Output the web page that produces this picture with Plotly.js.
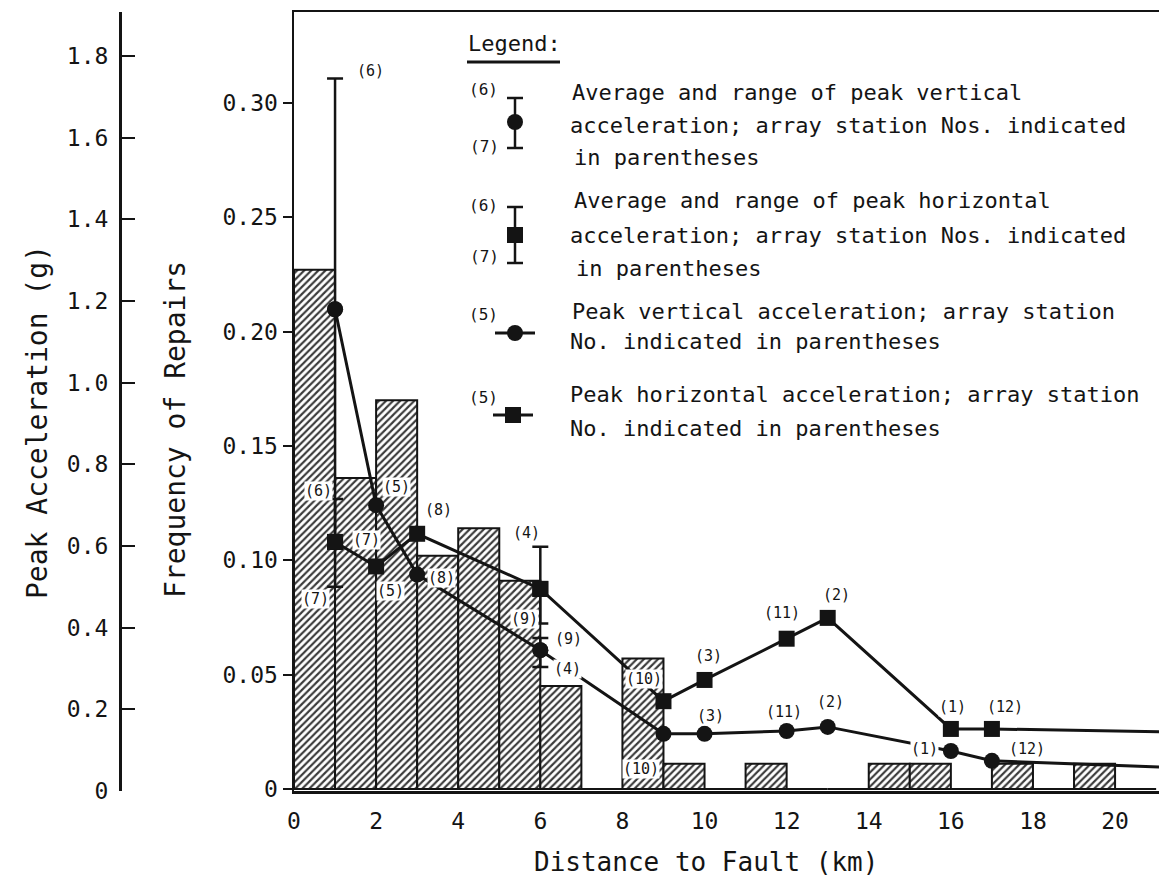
<!DOCTYPE html>
<html>
<head>
<meta charset="utf-8">
<script src="https://cdn.plot.ly/plotly-3.0.1.min.js"></script>
<style>
  html, body { margin: 0; padding: 0; background: #fff; }
  #chart { width: 1159px; height: 884px; }
</style>
</head>
<body>
<div id="chart"></div>
<script>
// ---- Histogram of pipeline repairs, 1 km bins ----
const repairBinStart = [0, 1, 2, 3, 4, 5, 6, 7, 8, 9, 10, 11, 12, 13, 14, 15, 16, 17, 18, 19, 20];
const repairFreq     = [0.227, 0.136, 0.170, 0.102, 0.114, 0.091, 0.045, 0, 0.057, 0.011, 0,
                        0.011, 0, 0, 0.011, 0.011, 0, 0.011, 0, 0.011, 0];

// ---- Strong-motion array stations ----
const stationKm       = [1, 2, 3, 6, 9, 10, 12, 13, 16, 17];
const peakVertical    = [1.18, 0.70, 0.53, 0.345, 0.14, 0.14, 0.147, 0.157, 0.098, 0.074];
const peakHorizontal  = [0.61, 0.55, 0.63, 0.495, 0.22, 0.272, 0.373, 0.424, 0.152, 0.152];
const vertStation     = ['', '(5)', '(8)', '', '(10)', '(3)', '(11)', '(2)', '(1)', '(12)'];
const horizStation    = ['', '(5)', '(8)', '', '(10)', '(3)', '(11)', '(2)', '(1)', '(12)'];

// both lines run on past the right end of the distance axis
const xAxisEnd        = 21.07;
const vertTail        = 0.059;
const horizTail       = 0.145;

// averaged points (index into the station arrays) with the range of the two records
const rangeIdx        = [0, 3];
const vertHigh        = [1.745, 0.375];
const vertLow         = [0.62, 0.304];
const vertHighSta     = ['(6)', '(9)'];
const vertLowSta      = ['(7)', '(4)'];
const horizHigh       = [0.715, 0.598];
const horizLow        = [0.50, 0.41];
const horizHighSta    = ['(6)', '(4)'];
const horizLowSta     = ['(7)', '(9)'];

// tick labels
const accelTicks      = [0, 0.2, 0.4, 0.6, 0.8, 1.0, 1.2, 1.4, 1.6, 1.8];
const accelTickText   = ['0', '0.2', '0.4', '0.6', '0.8', '1.0', '1.2', '1.4', '1.6', '1.8'];
const freqTicks       = [0, 0.05, 0.10, 0.15, 0.20, 0.25, 0.30];
const freqTickText    = ['0', '0.05', '0.10', '0.15', '0.20', '0.25', '0.30'];
const kmTicks         = [0, 2, 4, 6, 8, 10, 12, 14, 16, 18, 20];

// ---- page geometry helpers (paper = whole canvas) ----
const W = 1159, H = 884;
const PX = X => X / W;
const PY = Y => 1 - Y / H;
const FONT = 'DejaVu Sans Mono, Liberation Mono, monospace';
const INK = '#141414';

// station label offsets in pixels [dx, dy] (dy positive = up), one per station
const vertLabelShift  = [[0,0],[20,18],[24,-3],[0,0],[-22,-35],[6,18],[-3,19],[3,25],[-26,2],[35,12]];
const horizLabelShift = [[0,0],[14,-25],[21,24],[0,0],[-19,22],[4,24],[-5,26],[9,23],[2,22],[13,22]];
const vertHighShift   = [[35,8],[28,-1]];
const vertLowShift    = [[31,-2],[27,-2]];
const horizHighShift  = [[-17,8],[-14,14]];
const horizLowShift   = [[-20,-12],[-16,5]];

const traces = [];

traces.push({
  type: 'bar',
  x: repairBinStart,
  y: repairFreq,
  width: 1,
  offset: 0,
  xaxis: 'x', yaxis: 'y',
  marker: {
    color: '#ffffff',
    line: { color: INK, width: 2 },
    pattern: { shape: '/', fgcolor: '#3a3a3a', bgcolor: '#ffffff', size: 5, solidity: 0.42 }
  },
  hoverinfo: 'skip',
  showlegend: false
});

function stationLine(values, tail, symbol) {
  return {
    type: 'scatter',
    mode: 'lines+markers',
    x: stationKm.concat([xAxisEnd]),
    y: values.concat([tail]),
    xaxis: 'x', yaxis: 'y2',
    line: { color: INK, width: 3 },
    marker: {
      symbol: symbol,
      color: INK,
      opacity: 1,
      size: stationKm.map(() => 16).concat([0]),
      line: { width: 0 }
    },
    cliponaxis: false,
    hoverinfo: 'skip',
    showlegend: false
  };
}
traces.push(stationLine(peakHorizontal, horizTail, 'square'));
traces.push(stationLine(peakVertical, vertTail, 'circle'));

function rangeTrace(values, high, low, symbol) {
  const avg = rangeIdx.map(i => values[i]);
  return {
    type: 'scatter',
    mode: 'markers',
    x: rangeIdx.map(i => stationKm[i]),
    y: avg,
    xaxis: 'x', yaxis: 'y2',
    marker: { symbol: symbol, color: INK, opacity: 1, size: 16 },
    error_y: {
      type: 'data', symmetric: false,
      array: high.map((h, k) => h - avg[k]),
      arrayminus: low.map((l, k) => avg[k] - l),
      color: INK, thickness: 2.5, width: 8
    },
    hoverinfo: 'skip',
    showlegend: false
  };
}
traces.push(rangeTrace(peakVertical, vertHigh, vertLow, 'circle'));
traces.push(rangeTrace(peakHorizontal, horizHigh, horizLow, 'square'));

// ---- annotations ----
const annotations = [];
function stationLabel(x, y, text, shift) {
  annotations.push({
    xref: 'x', yref: 'y2', x: x, y: y, text: text, showarrow: false,
    xshift: shift[0], yshift: shift[1],
    font: { family: FONT, size: 15, color: INK },
    bgcolor: '#ffffff', borderpad: 0
  });
}
stationKm.forEach((km, i) => {
  if (vertStation[i]) stationLabel(km, peakVertical[i], vertStation[i], vertLabelShift[i]);
  if (horizStation[i]) stationLabel(km, peakHorizontal[i], horizStation[i], horizLabelShift[i]);
});
rangeIdx.forEach((idx, k) => {
  const km = stationKm[idx];
  stationLabel(km, vertHigh[k], vertHighSta[k], vertHighShift[k]);
  stationLabel(km, vertLow[k], vertLowSta[k], vertLowShift[k]);
  stationLabel(km, horizHigh[k], horizHighSta[k], horizHighShift[k]);
  stationLabel(km, horizLow[k], horizLowSta[k], horizLowShift[k]);
});

function pageText(X, Y, text, size, anchor, angle) {
  annotations.push({
    xref: 'paper', yref: 'paper', x: PX(X), y: PY(Y), text: text, showarrow: false,
    xanchor: anchor || 'left', yanchor: 'middle', textangle: angle || 0,
    font: { family: FONT, size: size, color: INK }
  });
}

// axis titles
pageText(706, 862, 'Distance to Fault (km)', 26, 'center');
pageText(37, 422, 'Peak Acceleration (g)', 28, 'center', -90);
pageText(175, 430, 'Frequency of Repairs', 28, 'center', -90);

// key
pageText(466, 43, 'Legend:', 22);
const keyLines = [
  [570, 93,  'Average and range of peak vertical'],
  [568, 126, 'acceleration; array station Nos. indicated'],
  [572, 157, 'in parentheses'],
  [572, 201, 'Average and range of peak horizontal'],
  [568, 236, 'acceleration; array station Nos. indicated'],
  [574, 268, 'in parentheses'],
  [570, 311, 'Peak vertical acceleration; array station'],
  [568, 342, 'No. indicated in parentheses'],
  [568, 395, 'Peak horizontal acceleration; array station'],
  [568, 428, 'No. indicated in parentheses']
];
keyLines.forEach(l => pageText(l[0], l[1], l[2], 22));
pageText(500, 90, '(6)', 16, 'right');
pageText(501, 147, '(7)', 16, 'right');
pageText(500, 205, '(6)', 16, 'right');
pageText(501, 256, '(7)', 16, 'right');
pageText(500, 314, '(5)', 16, 'right');
pageText(500, 398, '(5)', 16, 'right');

const shapes = [];
function seg(x0, y0, x1, y1, w) {
  shapes.push({ type: 'line', xref: 'paper', yref: 'paper',
    x0: PX(x0), y0: PY(y0), x1: PX(x1), y1: PY(y1),
    line: { color: INK, width: w || 2.5 } });
}
function dot(cx, cy, r, kind) {
  shapes.push({ type: kind, xref: 'paper', yref: 'paper',
    x0: PX(cx - r), x1: PX(cx + r), y0: PY(cy + r), y1: PY(cy - r),
    fillcolor: INK, line: { width: 0 } });
}
// "Legend:" underline
seg(467, 62, 560, 62, 3);
// range keys
seg(515, 98, 515, 148); seg(507, 98, 523, 98); seg(507, 148, 523, 148);
dot(515, 122, 8, 'circle');
seg(515, 207, 515, 263); seg(507, 207, 523, 207); seg(507, 263, 523, 263);
dot(515, 235, 8, 'rect');
// line keys
seg(495, 333, 535, 333, 3); dot(515, 333, 8, 'circle');
seg(493, 415, 533, 415, 3); dot(513, 415, 8, 'rect');

const tickFont = { family: FONT, size: 23, color: INK };

const layout = {
  width: W, height: H,
  margin: { l: 0, r: 0, t: 0, b: 0 },
  paper_bgcolor: '#ffffff',
  plot_bgcolor: 'rgba(0,0,0,0)',
  showlegend: false,
  bargap: 0,
  xaxis: {
    domain: [PX(294), 1],
    range: [0, xAxisEnd],
    tickmode: 'array', tickvals: kmTicks, ticktext: kmTicks.map(String),
    ticks: '', ticklabelstandoff: 8,
    showgrid: false, zeroline: false,
    showline: true, linecolor: INK, linewidth: 2.5, mirror: true,
    tickfont: tickFont
  },
  yaxis: {
    domain: [PY(791), PY(12)],
    range: [-0.0009, 0.3397],
    anchor: 'x',
    tickmode: 'array', tickvals: freqTicks, ticktext: freqTickText,
    ticks: 'outside', ticklen: 9, tickwidth: 2, tickcolor: INK,
    showgrid: false, zeroline: false,
    showline: true, linecolor: INK, linewidth: 2.5,
    tickfont: tickFont
  },
  yaxis2: {
    overlaying: 'y',
    anchor: 'free', position: PX(120), side: 'left',
    range: [0, 1.908],
    tickmode: 'array', tickvals: accelTicks, ticktext: accelTickText,
    ticks: 'inside', ticklen: 13, tickwidth: 2, tickcolor: INK,
    ticklabelstandoff: 6,
    showgrid: false, zeroline: false,
    showline: true, linecolor: INK, linewidth: 2.5,
    tickfont: tickFont
  },
  annotations: annotations,
  shapes: shapes
};

Plotly.newPlot('chart', traces, layout, { staticPlot: true, displayModeBar: false });
</script>
</body>
</html>
